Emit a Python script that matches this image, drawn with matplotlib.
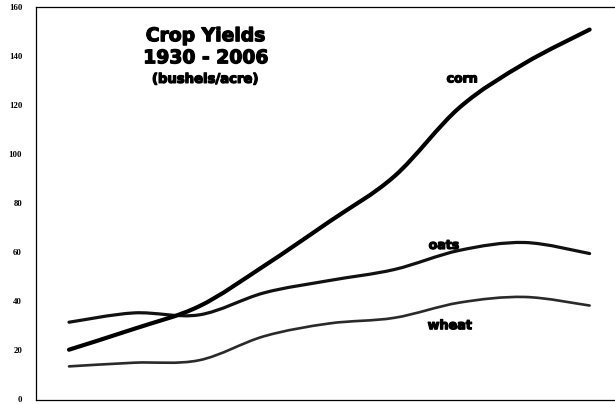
import matplotlib
matplotlib.use("Agg")
import matplotlib.pyplot as plt
from matplotlib.path import Path
from matplotlib.patches import PathPatch
import matplotlib.patheffects as pe

years = ["1930", "1940", "1950", "1960", "1970", "1980", "1990", "2000", "2006"]
corn = [20.3, 28.8, 38.0, 54.5, 72.5, 91.0, 119.0, 137.0, 150.8]
oats = [31.5, 35.3, 34.5, 43.5, 48.5, 53.0, 60.8, 64.0, 59.5]
wheat = [13.5, 15.0, 16.0, 25.8, 31.0, 33.3, 39.5, 41.8, 38.3]
yticks = [0, 20, 40, 60, 80, 100, 120, 140, 160]

fig = plt.figure(figsize=(6.15, 4.04), dpi=100)
ax = fig.add_axes([36/615, 1 - 399.5/404, 1 - 36/615, (399.5 - 7)/404])


def smooth_path(xs, ys):
    """Catmull-Rom style smoothed line (like a spreadsheet 'smoothed line')."""
    pts = list(zip(xs, ys))
    n = len(pts)
    verts = [pts[0]]
    codes = [Path.MOVETO]
    for i in range(n - 1):
        p0 = pts[i - 1] if i > 0 else pts[i]
        p1 = pts[i]
        p2 = pts[i + 1]
        p3 = pts[i + 2] if i + 2 < n else pts[i + 1]
        c1 = (p1[0] + (p2[0] - p0[0]) / 6.0, p1[1] + (p2[1] - p0[1]) / 6.0)
        c2 = (p2[0] - (p3[0] - p1[0]) / 6.0, p2[1] - (p3[1] - p1[1]) / 6.0)
        verts += [c1, c2, p2]
        codes += [Path.CURVE4, Path.CURVE4, Path.CURVE4]
    return Path(verts, codes)


x = list(range(len(years)))
for vals, col, lw in [(wheat, "#2a2a2a", 1.9), (oats, "#111111", 2.3), (corn, "black", 3.0)]:
    patch = PathPatch(smooth_path(x, vals), facecolor="none", edgecolor=col,
                      lw=lw, capstyle="round", joinstyle="round")
    ax.add_patch(patch)

ax.set_xlim(-0.507, 8.39)
ax.set_ylim(0, 160)
ax.set_yticks(yticks)
ax.set_yticklabels([str(t) for t in yticks], family="Liberation Serif",
                   fontweight="bold", fontsize=6.3)
ax.tick_params(axis="y", length=0, pad=10)
ax.set_xticks([])
ax.spines["right"].set_visible(False)
for s in ["left", "top", "bottom"]:
    ax.spines[s].set_linewidth(0.9)
    ax.spines[s].set_color("black")

heavy = [pe.withStroke(linewidth=0.9, foreground="black")]
ax.text(2.1, 148.3, "Crop Yields", ha="center", va="center",
        fontsize=13.5, fontweight="bold", path_effects=heavy)
ax.text(2.1, 139.3, "1930 - 2006", ha="center", va="center",
        fontsize=13.5, fontweight="bold", path_effects=heavy)
ax.text(2.1, 130.5, "(bushels/acre)", ha="center", va="center",
        fontsize=9.5, fontweight="bold", path_effects=heavy)

ax.text(6.04, 130.7, "corn", ha="center", va="center", fontsize=9,
        fontweight="bold", path_effects=heavy)
ax.text(5.76, 62.8, "oats", ha="center", va="center", fontsize=9,
        fontweight="bold", path_effects=heavy)
ax.text(5.85, 30.1, "wheat", ha="center", va="center", fontsize=9.2,
        fontweight="bold", path_effects=heavy)

fig.savefig("out.png", dpi=100)
